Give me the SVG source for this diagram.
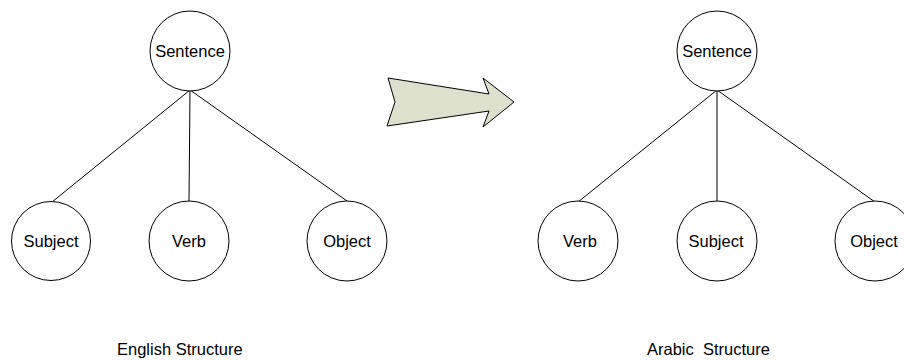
<svg xmlns="http://www.w3.org/2000/svg" width="904" height="360" viewBox="0 0 904 360">
<style>
.n{fill:#fff;stroke:#000;stroke-width:1}
.t{font-family:"Liberation Sans",Arial,sans-serif;font-size:16.5px;fill:#000;text-anchor:middle}
.l{font-family:"Liberation Sans",Arial,sans-serif;font-size:16.5px;fill:#000}
.e{stroke:#000;stroke-width:1;fill:none}
</style>
<rect width="904" height="360" fill="#fff"/>
<g id="connectors">
<line class="e" x1="190" y1="90" x2="52" y2="202"/>
<line class="e" x1="190" y1="90" x2="189" y2="202"/>
<line class="e" x1="190" y1="90" x2="347" y2="201"/>
<line class="e" x1="717" y1="90" x2="578" y2="202"/>
<line class="e" x1="717" y1="90" x2="717" y2="202"/>
<line class="e" x1="717" y1="90" x2="875" y2="202"/>
</g>
<g id="arrow">
<polygon points="388,78 489,94 483,78 514,102 483,127 489,111 387,126 395,102" fill="#dde0cc" stroke="#000" stroke-width="1"/>
</g>
<g id="en-sentence"><circle class="n" cx="190" cy="51" r="40"/><text class="t" x="190" y="57">Sentence</text></g>
<g id="en-subject"><circle class="n" cx="51" cy="241" r="39.5"/><text class="t" x="51" y="247">Subject</text></g>
<g id="en-verb"><circle class="n" cx="189" cy="241" r="40"/><text class="t" x="189" y="247">Verb</text></g>
<g id="en-object"><circle class="n" cx="347" cy="241" r="40"/><text class="t" x="347" y="247">Object</text></g>
<g id="ar-sentence"><circle class="n" cx="717" cy="51" r="40"/><text class="t" x="717" y="57">Sentence</text></g>
<g id="ar-verb"><circle class="n" cx="578" cy="241" r="40"/><text class="t" x="580" y="247">Verb</text></g>
<g id="ar-subject"><circle class="n" cx="717" cy="241" r="40"/><text class="t" x="716" y="247">Subject</text></g>
<g id="ar-object"><circle class="n" cx="875" cy="241" r="40"/><text class="t" x="874" y="247">Object</text></g>
<g id="labels">
<text class="l" x="117" y="355">English Structure</text>
<text class="l" x="647" y="355" xml:space="preserve">Arabic  Structure</text>
</g>
</svg>
